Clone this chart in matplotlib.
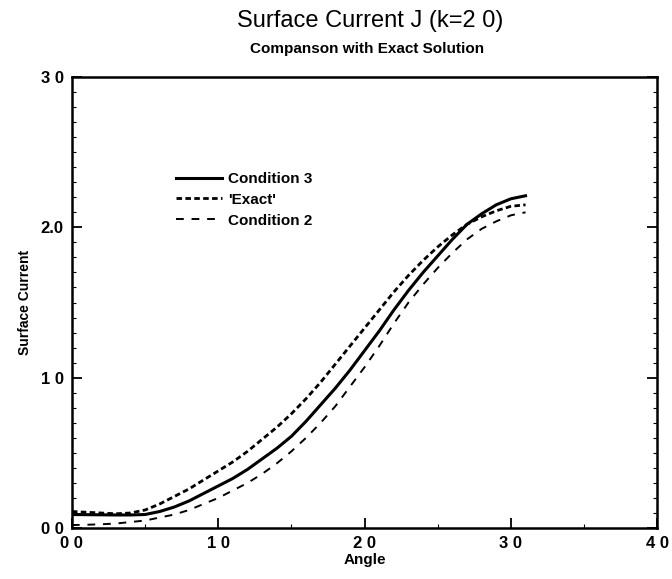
import numpy as np
import matplotlib
matplotlib.use("Agg")
import matplotlib.pyplot as plt
from matplotlib.ticker import MultipleLocator, FixedLocator, FixedFormatter

plt.rcParams['font.family'] = ['Liberation Sans', 'DejaVu Sans']

# Datos (angulo en radianes)
angulo = [0.0, 0.1, 0.2, 0.3, 0.4, 0.5, 0.6, 0.7, 0.8, 0.9, 1.0, 1.1, 1.2, 1.3, 1.4, 1.5,
          1.6, 1.7, 1.8, 1.9, 2.0, 2.1, 2.2, 2.3, 2.4, 2.5, 2.6, 2.7, 2.8, 2.9, 3.0, 3.1]
cond3 = [0.090, 0.089, 0.088, 0.087, 0.087, 0.090, 0.11, 0.14, 0.18, 0.23, 0.28, 0.33,
         0.39, 0.46, 0.53, 0.61, 0.71, 0.82, 0.93, 1.05, 1.18, 1.31, 1.45, 1.58, 1.70,
         1.81, 1.92, 2.02, 2.09, 2.15, 2.19, 2.21]
exacta = [0.110, 0.105, 0.100, 0.095, 0.100, 0.12, 0.16, 0.21, 0.26, 0.32, 0.38, 0.44,
          0.51, 0.59, 0.67, 0.76, 0.86, 0.97, 1.09, 1.21, 1.33, 1.45, 1.57, 1.68, 1.78,
          1.87, 1.95, 2.02, 2.07, 2.11, 2.14, 2.15]
cond2 = [0.020, 0.022, 0.025, 0.030, 0.040, 0.050, 0.07, 0.09, 0.12, 0.16, 0.20, 0.25,
         0.30, 0.36, 0.43, 0.51, 0.60, 0.70, 0.81, 0.94, 1.07, 1.21, 1.36, 1.50, 1.62,
         1.73, 1.83, 1.92, 1.99, 2.04, 2.08, 2.10]

xticks = [0, 1, 2, 3, 4]
xtick_labels = ['0 0', '1 0', '2 0', '3 0', '4 0']
yticks = [0, 1, 2, 3]
ytick_labels = ['0 0', '1 0', '2.0', '3 0']

fig = plt.figure(figsize=(6.72, 5.79), dpi=100)
ax = fig.add_axes([0.107, 0.088, 0.871, 0.779])

ax.plot(angulo, cond3, color='black', lw=2.2, label='Condition 3')
ax.plot(angulo, exacta, color='black', lw=2.0, dashes=(2.0, 1.2), label="'Exact'")
ax.plot(angulo, cond2, color='black', lw=1.4, dashes=(4, 4), label='Condition 2')

ax.set_xlim(0, 4)
ax.set_ylim(0, 3)
ax.xaxis.set_major_locator(FixedLocator(xticks))
ax.xaxis.set_major_formatter(FixedFormatter(xtick_labels))
ax.yaxis.set_major_locator(FixedLocator(yticks))
ax.yaxis.set_major_formatter(FixedFormatter(ytick_labels))
ax.xaxis.set_minor_locator(MultipleLocator(0.5))
ax.yaxis.set_minor_locator(MultipleLocator(0.1))

ax.tick_params(which='both', direction='in', top=False, right=True)
ax.tick_params(which='major', length=7, width=1.3, labelsize=12, pad=6)
ax.tick_params(which='minor', length=3, width=0.8)
for lab in ax.get_xticklabels() + ax.get_yticklabels():
    lab.set_fontweight('bold')

for s in ax.spines.values():
    s.set_linewidth(1.8)

ax.set_xlabel('Angle', fontsize=11, fontweight='bold', labelpad=1)
ax.set_ylabel('Surface Current', fontsize=10, fontweight='bold', labelpad=6)

fig.text(0.551, 0.963, 'Surface Current J (k=2 0)', ha='center', va='center', fontsize=17)
fig.text(0.546, 0.916, 'Companson with Exact Solution', ha='center', va='center',
         fontsize=11, fontweight='bold')

leg = ax.legend(loc='upper left', bbox_to_anchor=(0.155, 0.82), frameon=False,
                handlelength=3.0, labelspacing=0.45, handletextpad=0.4,
                prop={'size': 11, 'weight': 'bold'})

fig.savefig('out.png', dpi=100)
